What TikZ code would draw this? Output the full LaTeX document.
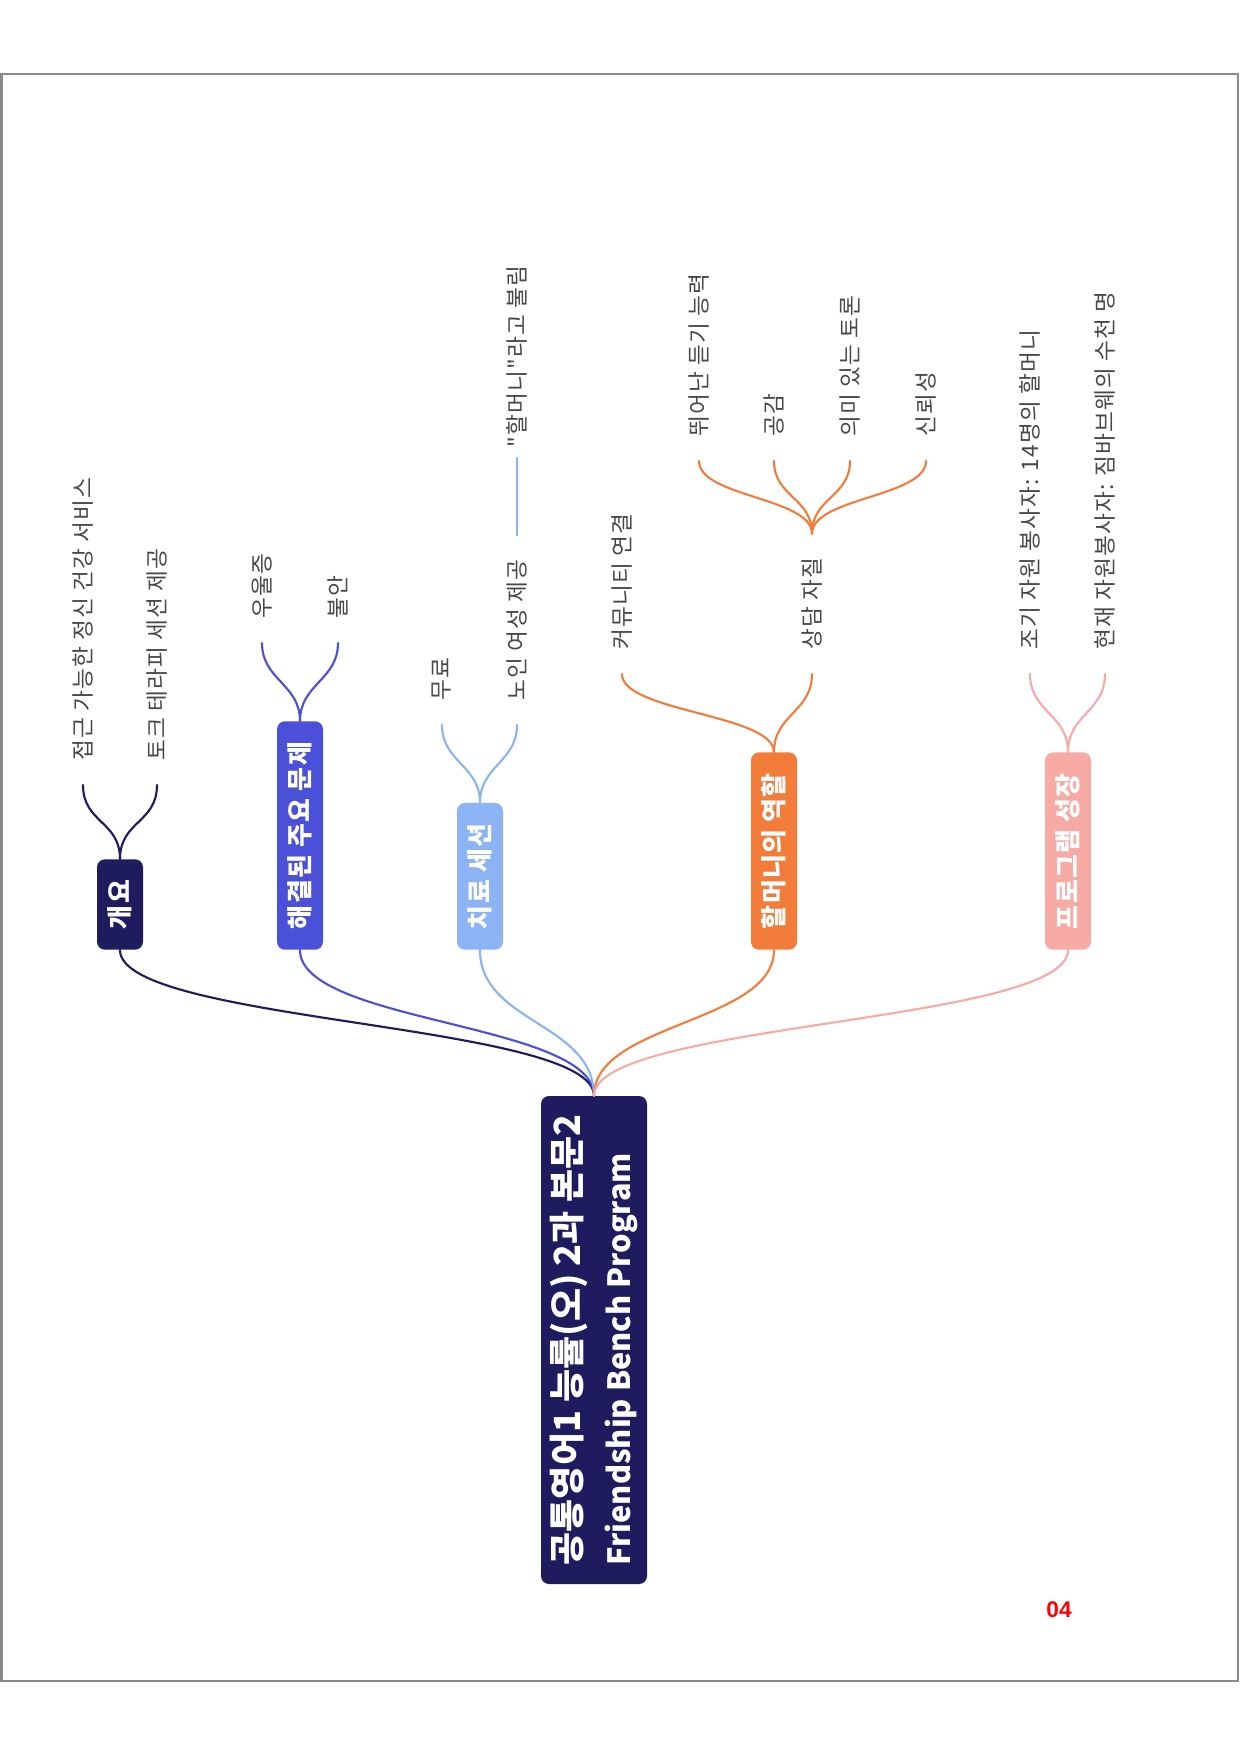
\documentclass[tikz,border=0pt]{standalone}
\usepackage{fontspec}
\usepackage{tikz}
\newfontfamily\krfont{Noto Sans CJK KR}
\newfontfamily\krspaced[LetterSpace=5]{Noto Sans CJK KR}
\newfontfamily\numfont{Liberation Sans}

\definecolor{ovnavy}{RGB}{30,27,94}
\definecolor{probblue}{RGB}{74,80,216}
\definecolor{sessblue}{RGB}{140,180,245}
\definecolor{granorange}{RGB}{244,124,58}
\definecolor{growpink}{RGB}{248,170,165}
\definecolor{leafgray}{RGB}{72,72,72}
\definecolor{framegray}{RGB}{138,138,138}

\tikzset{
  rootbox/.style={rotate=90, rounded corners=6pt, fill=ovnavy, text=white,
    font=\krfont\bfseries\fontsize{27}{37}\selectfont, align=left,
    minimum width=366pt, minimum height=79.5pt, inner sep=0pt},
  topicbox/.style={rotate=90, anchor=west, rounded corners=6pt, text=white,
    font=\krspaced\bfseries\fontsize{19.5}{22}\selectfont,
    minimum height=34.5pt, inner xsep=15.5pt, inner ysep=0pt},
  leaf/.style={rotate=90, anchor=west, text=leafgray,
    font=\krspaced\fontsize{17}{20}\selectfont, inner xsep=18pt, inner ysep=1pt},
  branch/.style={line width=1.6pt, line cap=round},
}

\begin{document}
\begin{tikzpicture}[x=0.75pt,y=0.75pt,yscale=-1,xscale=1]
\useasboundingbox (0,0) rectangle (1240,1754);

%Shape: Rectangle
\draw [color=framegray, line width=1.5pt] (1.5,74) rectangle (1237.5,1680.5) ;

% Root Node
\node [rootbox] (root) at (594,1340) {공통영어1 능률(오) 2과 본문2\\{\fontsize{23}{37}\selectfont Friendship Bench Program}};

% Topic Nodes
\node [topicbox, fill=ovnavy] (ov) at (120,950) {개요};
\node [topicbox, fill=probblue] (prob) at (300,950) {해결된 주요 문제};
\node [topicbox, fill=sessblue] (sess) at (480,950) {치료 세션};
\node [topicbox, fill=granorange] (gran) at (774,950) {할머니의 역할};
\node [topicbox, fill=growpink] (grow) at (1068,950) {프로그램 성장};

%Curve Lines
\draw [branch, ovnavy] (root.east) .. controls +(0,-73) and +(0,73) .. (ov.west) ;
\draw [branch, probblue] (root.east) .. controls +(0,-73) and +(0,73) .. (prob.west) ;
\draw [branch, sessblue] (root.east) .. controls +(0,-73) and +(0,73) .. (sess.west) ;
\draw [branch, granorange] (root.east) .. controls +(0,-73) and +(0,73) .. (gran.west) ;
\draw [branch, growpink] (root.east) .. controls +(0,-73) and +(0,73) .. (grow.west) ;

% Text Node
\node [leaf] (ov1) at (83,785) {접근 가능한 정신 건강 서비스};
\node [leaf] (ov2) at (157,785) {토크 테라피 세션 제공};
% Text Node
\node [leaf] (prob1) at (262,643) {우울증};
\node [leaf] (prob2) at (338,643) {불안};
% Text Node
\node [leaf] (sess1) at (442,725) {무료};
\node [leaf] (sess2) at (517,725) {노인 여성 제공};
\node [leaf, inner xsep=8pt] (sess3) at (517,458) {"할머니"라고 불림};
% Text Node
\node [leaf] (gran1) at (622,674) {커뮤니티 연결};
\node [leaf] (gran2) at (812,674) {상담 자질};
\node [leaf] (gran21) at (699,461) {뛰어난 듣기 능력};
\node [leaf] (gran22) at (774,461) {공감};
\node [leaf] (gran23) at (850,461) {의미 있는 토론};
\node [leaf] (gran24) at (926,461) {신뢰성};
% Text Node
\node [leaf] (grow1) at (1030,674) {조기 자원 봉사자: 14명의 할머니};
\node [leaf] (grow2) at (1105,674) {현재 자원봉사자: 짐바브웨의 수천 명};

%Curve Lines
\draw [branch, ovnavy] (ov.east) .. controls +(0,-38) and +(0,38) .. (ov1.west) ;
\draw [branch, ovnavy] (ov.east) .. controls +(0,-38) and +(0,38) .. (ov2.west) ;
\draw [branch, probblue] (prob.east) .. controls +(0,-37) and +(0,37) .. (prob1.west) ;
\draw [branch, probblue] (prob.east) .. controls +(0,-37) and +(0,37) .. (prob2.west) ;
\draw [branch, sessblue] (sess.east) .. controls +(0,-37) and +(0,37) .. (sess1.west) ;
\draw [branch, sessblue] (sess.east) .. controls +(0,-37) and +(0,37) .. (sess2.west) ;
\draw [branch, granorange] (gran.east) .. controls +(0,-38) and +(0,38) .. (gran1.west) ;
\draw [branch, granorange] (gran.east) .. controls +(0,-38) and +(0,38) .. (gran2.west) ;
\draw [branch, granorange] (gran2.east) .. controls +(0,-36) and +(0,36) .. (gran21.west) ;
\draw [branch, granorange] (gran2.east) .. controls +(0,-36) and +(0,36) .. (gran22.west) ;
\draw [branch, granorange] (gran2.east) .. controls +(0,-36) and +(0,36) .. (gran23.west) ;
\draw [branch, granorange] (gran2.east) .. controls +(0,-36) and +(0,36) .. (gran24.west) ;
\draw [branch, growpink] (grow.east) .. controls +(0,-38) and +(0,38) .. (grow1.west) ;
\draw [branch, growpink] (grow.east) .. controls +(0,-38) and +(0,38) .. (grow2.west) ;

%Straight Lines
\draw [branch, sessblue] (sess2.east) -- (sess3.west) ;

% Text Node
\node [font=\numfont\bfseries\fontsize{17}{20}\selectfont, text=red] (pg) at (1059,1610) {04};

\end{tikzpicture}
\end{document}
